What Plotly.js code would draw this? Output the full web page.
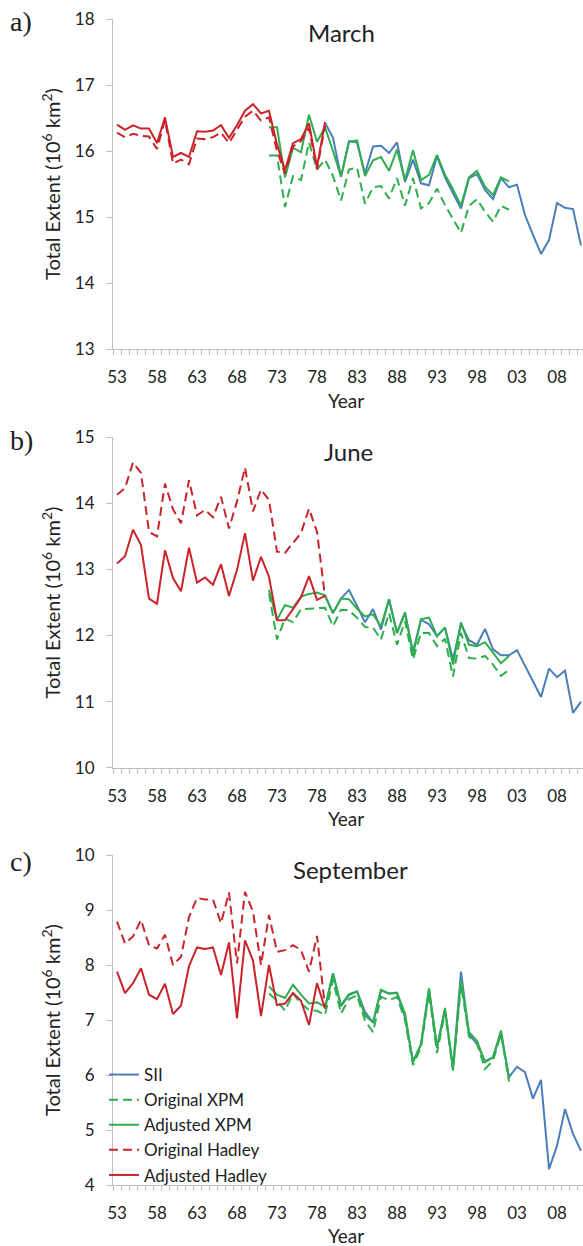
<!DOCTYPE html>
<html>
<head>
<meta charset="utf-8">
<script src="https://cdn.plot.ly/plotly-3.0.1.min.js"></script>
<style>html,body{margin:0;padding:0;background:#fff;}#chart{width:583px;height:1246px;}</style>
</head>
<body>
<div id="chart"></div>
<script>
// ---------- data ----------
function yearsFrom(a, b) { var r = []; for (var y = a; y <= b; y++) r.push(y); return r; }
var hadleyYears = yearsFrom(1953, 1979);
var xpmYears = yearsFrom(1972, 2002);
var siiYears = yearsFrom(1979, 2011);

var tickYears = [1953, 1958, 1963, 1968, 1973, 1978, 1983, 1988, 1993, 1998, 2003, 2008];
var tickLabels = ['53', '58', '63', '68', '73', '78', '83', '88', '93', '98', '03', '08'];

var seriesNames = ['SII', 'Original XPM', 'Adjusted XPM', 'Original Hadley', 'Adjusted Hadley'];
var panelTitles = ['March', 'June', 'September'];
var panelLetters = ['a)', 'b)', 'c)'];
var xTitle = 'Year';
var yTitle = 'Total Extent (10<sup>6</sup> km<sup>2</sup>)';

// March
var siiMar = [16.43,16.20,15.61,16.15,16.13,15.66,16.07,16.08,15.97,16.13,15.53,15.87,15.51,15.48,15.92,15.60,15.36,15.13,15.59,15.65,15.41,15.27,15.59,15.45,15.49,15.03,14.73,14.44,14.65,15.21,15.14,15.12,14.57];
var xpmOrigMar = [15.93,15.93,15.15,15.62,15.56,16.13,15.72,15.87,15.62,15.25,15.72,15.75,15.20,15.45,15.47,15.28,15.59,15.17,15.59,15.13,15.21,15.43,15.18,14.98,14.76,15.17,15.27,15.08,14.93,15.17,15.11];
var xpmAdjMar = [16.36,16.36,15.60,16.05,15.98,16.55,16.14,16.36,16.00,15.61,16.14,16.16,15.62,15.86,15.91,15.70,16.02,15.56,16.01,15.56,15.64,15.94,15.64,15.42,15.17,15.60,15.70,15.46,15.33,15.60,15.54];
var hadleyOrigMar = [16.28,16.21,16.26,16.23,16.22,16.03,16.47,15.81,15.87,15.80,16.19,16.18,16.21,16.28,16.12,16.31,16.52,16.61,16.46,16.51,16.00,15.66,16.07,16.15,16.35,15.72,16.38];
var hadleyAdjMar = [16.40,16.32,16.39,16.34,16.34,16.12,16.51,15.91,15.97,15.91,16.30,16.29,16.31,16.39,16.20,16.39,16.61,16.71,16.57,16.61,16.10,15.71,16.12,16.18,16.42,15.76,16.44];

// June
var siiJun = [12.60,12.34,12.56,12.69,12.45,12.20,12.40,12.09,12.55,12.04,12.34,11.76,12.24,12.17,11.99,12.12,11.64,12.17,11.93,11.86,12.10,11.79,11.70,11.70,11.78,11.54,11.31,11.07,11.50,11.37,11.47,10.83,11.00];
var xpmOrigJun = [12.64,11.94,12.26,12.20,12.40,12.41,12.42,12.42,12.14,12.39,12.38,12.27,12.13,12.12,11.94,12.34,11.86,12.22,11.64,12.04,12.04,11.84,11.95,11.38,12.04,11.66,11.65,11.69,11.56,11.39,11.48];
var xpmAdjJun = [12.69,12.24,12.46,12.42,12.59,12.63,12.65,12.61,12.34,12.56,12.55,12.41,12.29,12.32,12.14,12.55,12.04,12.35,11.71,12.25,12.27,11.99,12.12,11.56,12.20,11.86,11.84,11.90,11.74,11.58,11.69];
var hadleyOrigJun = [14.13,14.23,14.62,14.46,13.57,13.50,14.30,13.91,13.70,14.35,13.82,13.90,13.79,14.10,13.62,14.03,14.54,13.88,14.21,14.05,13.27,13.25,13.40,13.55,13.92,13.57,12.59];
var hadleyAdjJun = [13.09,13.20,13.60,13.37,12.56,12.48,13.29,12.87,12.67,13.33,12.80,12.88,12.77,13.08,12.60,12.99,13.55,12.83,13.19,12.89,12.23,12.23,12.40,12.58,12.90,12.54,12.60];

// September
var siiSep = [7.20,7.85,7.25,7.45,7.52,7.15,6.95,7.54,7.48,7.49,7.05,6.25,6.55,7.55,6.50,7.18,6.13,7.88,6.74,6.56,6.25,6.32,6.75,5.96,6.15,6.05,5.57,5.91,4.29,4.71,5.38,4.93,4.62];
var xpmOrigSep = [7.48,7.35,7.17,7.48,7.30,7.18,7.17,7.09,7.73,7.12,7.38,7.45,6.99,6.78,7.42,7.36,7.42,7.00,6.18,6.50,7.50,6.40,7.15,6.08,7.65,6.70,6.58,6.11,6.26,6.75,5.88];
var xpmAdjSep = [7.61,7.46,7.40,7.64,7.46,7.30,7.32,7.24,7.84,7.27,7.47,7.52,7.08,6.96,7.55,7.48,7.50,7.12,6.23,6.56,7.58,6.50,7.22,6.11,7.72,6.78,6.62,6.23,6.32,6.81,5.93];
var hadleyOrigSep = [8.79,8.39,8.52,8.82,8.36,8.30,8.55,8.00,8.15,8.87,9.22,9.19,9.19,8.76,9.32,8.03,9.33,8.97,8.00,8.91,8.24,8.27,8.36,8.27,7.88,8.53,7.24];
var hadleyAdjSep = [7.88,7.49,7.67,7.94,7.46,7.38,7.66,7.11,7.26,7.98,8.32,8.29,8.32,7.82,8.41,7.03,8.45,8.08,7.07,8.00,7.27,7.30,7.49,7.35,6.91,7.67,7.21];

var yRanges = [[13, 18], [10, 15], [4, 10]];

// ---------- styling ----------
var W = 583, H = 1246;
var FONT = 'Lato, "Liberation Sans", sans-serif';
var TXT = '#222222';
var AX = '#bfbfbf';
var colors = ['#4a7ebb', '#2fae4e', '#2fae4e', '#c9242b', '#c9242b'];
var dashes = ['solid', '9px,5px', 'solid', '9px,5px', 'solid'];
var plotLeft = 113, plotRight = 583;
var panelTops = [19, 437.3, 855];
var panelBottoms = [349, 767.7, 1185];

var panels = [
  [siiMar, xpmOrigMar, xpmAdjMar, hadleyOrigMar, hadleyAdjMar],
  [siiJun, xpmOrigJun, xpmAdjJun, hadleyOrigJun, hadleyAdjJun],
  [siiSep, xpmOrigSep, xpmAdjSep, hadleyOrigSep, hadleyAdjSep]
];
var xsFor = [siiYears, xpmYears, xpmYears, hadleyYears, hadleyYears];

var traces = [];
panels.forEach(function (series, p) {
  series.forEach(function (vals, s) {
    traces.push({
      type: 'scatter', mode: 'lines',
      x: xsFor[s], y: vals,
      name: seriesNames[s],
      legendgroup: seriesNames[s],
      showlegend: p === 2,
      xaxis: p === 0 ? 'x' : 'x' + (p + 1),
      yaxis: p === 0 ? 'y' : 'y' + (p + 1),
      line: { color: colors[s], width: 2, dash: dashes[s] },
      hoverinfo: 'skip'
    });
  });
});

var xRange = [1952.5, 1952.5 + (plotRight - plotLeft) / 8];

var layout = {
  width: W, height: H,
  margin: { l: 0, r: 0, t: 0, b: 0 },
  paper_bgcolor: '#ffffff', plot_bgcolor: '#ffffff',
  font: { family: FONT, color: TXT, size: 17 },
  showlegend: true,
  legend: {
    x: 104 / W, xanchor: 'left',
    y: 1 - 1057 / H, yanchor: 'top',
    bgcolor: 'rgba(0,0,0,0)',
    font: { family: FONT, size: 17, color: TXT },
    tracegroupgap: 0
  },
  annotations: [],
  shapes: []
};

var titleX = [341, 348, 351];
var titleY = [33, 452, 869];
var letterY = [22, 441, 861];
var yearY = [400, 818, 1235];

for (var p = 0; p < 3; p++) {
  var sfx = p === 0 ? '' : String(p + 1);
  var dom = [1 - panelBottoms[p] / H, 1 - panelTops[p] / H];
  layout['xaxis' + sfx] = {
    domain: [plotLeft / W, plotRight / W],
    anchor: 'y' + sfx,
    range: xRange,
    showgrid: false, zeroline: false,
    showline: true, linecolor: AX, linewidth: 1,
    tickmode: 'array', tickvals: tickYears, ticktext: tickLabels,
    ticks: '', ticklabelstandoff: 13,
    tickfont: { family: FONT, size: 17, color: TXT },
    minor: { tick0: 1952.5, dtick: 1, ticks: 'outside', ticklen: 5, tickcolor: AX, tickwidth: 1, showgrid: false },
    fixedrange: true
  };
  layout['yaxis' + sfx] = {
    domain: dom,
    anchor: 'x' + sfx,
    range: yRanges[p],
    dtick: 1, tick0: 0,
    showgrid: false, zeroline: false,
    showline: true, linecolor: AX, linewidth: 1,
    ticks: 'outside', ticklen: 6, tickcolor: AX, tickwidth: 1,
    ticklabelstandoff: 8,
    tickfont: { family: FONT, size: 17, color: TXT },
    title: { text: yTitle, font: { family: FONT, size: 20, color: TXT }, standoff: 8 },
    fixedrange: true
  };
  layout.annotations.push({
    xref: 'paper', yref: 'paper', x: titleX[p] / W, y: 1 - titleY[p] / H,
    xanchor: 'center', yanchor: 'middle', showarrow: false,
    text: panelTitles[p], font: { family: FONT, size: 24, color: TXT }
  });
  layout.annotations.push({
    xref: 'paper', yref: 'paper', x: 346 / W, y: 1 - yearY[p] / H,
    xanchor: 'center', yanchor: 'middle', showarrow: false,
    text: xTitle, font: { family: FONT, size: 19, color: TXT }
  });
  layout.annotations.push({
    xref: 'paper', yref: 'paper', x: 8 / W, y: 1 - letterY[p] / H,
    xanchor: 'left', yanchor: 'middle', showarrow: false,
    text: panelLetters[p], font: { family: '"Liberation Serif", "DejaVu Serif", serif', size: 28, color: TXT }
  });
}

Plotly.newPlot('chart', traces, layout, { staticPlot: true, displayModeBar: false });
</script>
</body>
</html>
